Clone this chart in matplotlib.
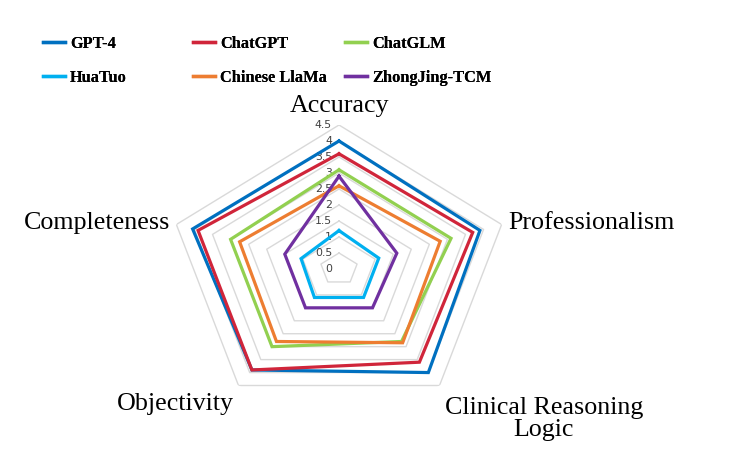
import numpy as np
import matplotlib
matplotlib.use("Agg")
import matplotlib.pyplot as plt
from matplotlib.lines import Line2D

categories = ["Accuracy", "Professionalism", "Clinical Reasoning\nLogic", "Objectivity", "Completeness"]
models = ["GPT-4", "ChatGPT", "ChatGLM", "HuaTuo", "Chinese LlaMa", "ZhongJing-TCM"]
gpt4 = [4.0, 3.9, 4.0, 3.9, 4.05]
chatgpt = [3.6, 3.7, 3.6, 3.9, 3.9]
chatglm = [3.1, 3.1, 2.8, 3.0, 3.0]
huatuo = [1.2, 1.1, 1.1, 1.1, 1.05]
llama = [2.6, 2.8, 2.85, 2.8, 2.75]
zhongjing = [2.9, 1.6, 1.5, 1.5, 1.5]
series = [gpt4, chatgpt, chatglm, huatuo, llama, zhongjing]
colors = ["#0070C0", "#D0253A", "#92D050", "#00B0F0", "#ED7D31", "#7030A0"]
levels = [0.5, 1, 1.5, 2, 2.5, 3, 3.5, 4, 4.5]
tick_labels = ["0", "0.5", "1", "1.5", "2", "2.5", "3", "3.5", "4", "4.5"]

fig = plt.figure(figsize=(7.32, 4.5), dpi=100)
W, H = 732, 450
cx, cy, rx, ry = 339, 269, 171, 144
ax = fig.add_axes([(cx - rx) / W, (H - cy - ry) / H, 2 * rx / W, 2 * ry / H], projection="polar")
ax.set_aspect("auto")
ax.set_theta_zero_location("N")
ax.set_theta_direction(-1)
ax.set_ylim(0, 4.5)
ax.grid(False)
ax.spines["polar"].set_visible(False)
ax.set_xticks([])
ax.set_yticks([])
ax.patch.set_alpha(0)

n = len(categories)
theta = np.linspace(0, 2 * np.pi, n, endpoint=False)
theta_c = np.append(theta, theta[0])

for lv in levels:
    ax.plot(theta_c, [lv] * (n + 1), color="#D9D9D9", lw=1.0, zorder=1)

for name, vals, col in zip(models, series, colors):
    ax.plot(theta_c, list(vals) + [vals[0]], color=col, lw=2.3, label=name, zorder=3,
            solid_joinstyle="miter")

for i, lab in enumerate(tick_labels):
    ax.annotate(lab, xy=(0, i * 0.5), xytext=(-7, 0), textcoords="offset pixels",
                ha="right", va="center", fontsize=7.8, color="#404040",
                family="DejaVu Sans", zorder=2)

serif = "Liberation Serif"
ax_fs = 18.7
fig.text(339 / W, 1 - 106 / H, categories[0], ha="center", va="center", fontsize=ax_fs, family=serif)
fig.text(508 / W, 1 - 223 / H, categories[1], ha="left", va="center", fontsize=ax_fs, family=serif)
fig.text(544 / W, 1 - 419 / H, categories[2], ha="center", va="center", fontsize=ax_fs, family=serif,
         linespacing=1.05)
fig.text(175 / W, 1 - 404 / H, categories[3], ha="center", va="center", fontsize=ax_fs, family=serif)
fig.text(170 / W, 1 - 223 / H, categories[4], ha="right", va="center", fontsize=ax_fs, family=serif)

handles = [Line2D([], [], color=c, lw=2.4) for c in colors]
col_x = [43, 193, 345]
for k in range(3):
    idx = [k, k + 3]
    leg = fig.legend([handles[i] for i in idx], [models[i] for i in idx],
                     loc="upper left", bbox_to_anchor=(col_x[k] / W, 1 - 36 / H),
                     frameon=False, handlelength=1.35, handletextpad=0.3,
                     labelspacing=1.1, borderpad=0, borderaxespad=0,
                     prop={"family": serif, "weight": "bold", "size": 11.8})
    fig.add_artist(leg)

fig.savefig("out.png", dpi=100)
